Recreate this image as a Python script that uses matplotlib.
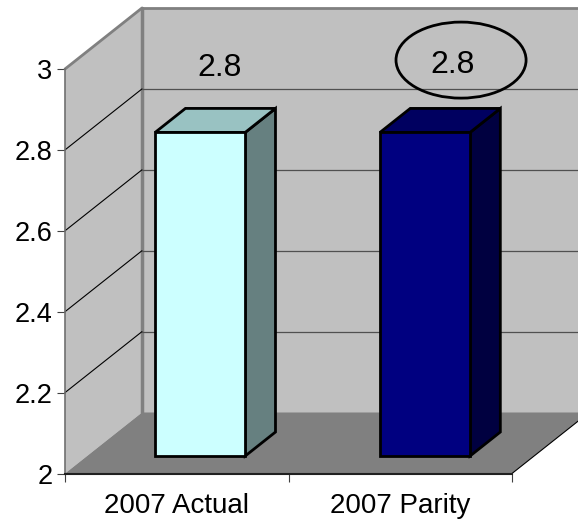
import matplotlib
matplotlib.use("Agg")
import matplotlib.pyplot as plt
from matplotlib.patches import Polygon, Ellipse

plt.rcParams["font.family"] = ["Liberation Sans", "DejaVu Sans"]

categories = ["2007 Actual", "2007 Parity"]
values = [2.8, 2.8]
y_ticks = [2, 2.2, 2.4, 2.6, 2.8, 3]
y_labels = ["2", "2.2", "2.4", "2.6", "2.8", "3"]

W, H = 578, 521
fig = plt.figure(figsize=(W / 100, H / 100), dpi=100, facecolor="white")
# the front plane of the fake 3d box is the real axes
ax = fig.add_axes([65 / W, (H - 473.5) / H, 447 / W, 404.5 / H])
ax.set_xlim(0, 2)
ax.set_ylim(2, 3)
ax.patch.set_visible(False)

# how far the back of the box is shifted, in data units
depth_x = 77 / 447 * 2
depth_y = 61 / 404.5


def proj(x, y, d):
    return (x + d * depth_x, y + d * depth_y)


def poly(points, **kw):
    p = Polygon(points, closed=True, clip_on=False, **kw)
    ax.add_patch(p)
    return p


def line(a, b, **kw):
    ax.plot([a[0], b[0]], [a[1], b[1]], clip_on=False, solid_capstyle="round", **kw)


# walls and floor
poly([proj(0, 2, 1), proj(0, 3, 1), proj(2, 3, 1), proj(2, 2, 1)], fc="#c0c0c0", ec="none", zorder=1)
poly([proj(0, 2, 0), proj(0, 3, 0), proj(0, 3, 1), proj(0, 2, 1)], fc="#c0c0c0", ec="none", zorder=1)
poly([proj(0, 2, 0), proj(2, 2, 0), proj(2, 2, 1), proj(0, 2, 1)], fc="#808080", ec="none", zorder=2)

line(proj(0, 3, 0), proj(0, 3, 1), color="#808080", lw=2, zorder=3)
line(proj(0, 3, 1), proj(2, 3, 1), color="#808080", lw=2, zorder=3)
line(proj(0, 2, 1), proj(0, 3, 1), color="#808080", lw=2.5, zorder=3)
line(proj(2, 2, 0), proj(2, 2, 1), color="black", lw=0.8, zorder=3)

for t in y_ticks[1:-1]:
    line(proj(0, t, 0), proj(0, t, 1), color="black", lw=0.8, zorder=3)
    line(proj(0, t, 1), proj(2, t, 1), color="#505050", lw=0.9, zorder=3)

# bars
bar_x = [0.506, 1.512]
bar_w = 0.403
front_d, back_d = 0.287, 0.68
face_cols = ["#ccffff", "#000080"]
top_cols = ["#99c2c2", "#000060"]
side_cols = ["#668080", "#000040"]

for x, v, fc, tc, sc in zip(bar_x, values, face_cols, top_cols, side_cols):
    l, r = x - bar_w / 2, x + bar_w / 2
    style = dict(ec="black", lw=2, joinstyle="miter", zorder=5)
    poly([proj(r, 2, front_d), proj(r, 2, back_d), proj(r, v, back_d), proj(r, v, front_d)], fc=sc, **style)
    poly([proj(l, v, front_d), proj(r, v, front_d), proj(r, v, back_d), proj(l, v, back_d)], fc=tc, **style)
    poly([proj(l, 2, front_d), proj(r, 2, front_d), proj(r, v, front_d), proj(l, v, front_d)], fc=fc, **style)

# value labels and the hand drawn circle
label_x = [0.692, 1.732]
label_y = [3.003, 3.010]
for x, y, v in zip(label_x, label_y, values):
    ax.text(x, y, f"{v:.1f}", fontsize=23, ha="center", va="center", color="black", zorder=7)
ax.add_patch(Ellipse((1.772, 3.022), 0.582, 0.188, fc="none", ec="black", lw=2, clip_on=False, zorder=7))

# axes
for s in ("top", "right"):
    ax.spines[s].set_visible(False)
ax.spines["left"].set_color("#707070")
ax.spines["left"].set_linewidth(1.2)
ax.spines["bottom"].set_color("#202020")
ax.spines["bottom"].set_linewidth(1.5)
ax.spines["left"].set_zorder(4)
ax.spines["bottom"].set_zorder(4)

ax.set_yticks(y_ticks)
ax.set_yticklabels(y_labels, fontsize=19.5)
ax.tick_params(axis="y", length=6, width=0.8, color="#404040", pad=3)
ax.set_xticks([0, 1, 2])
ax.set_xticklabels([])
ax.set_xticks([0.5, 1.5], categories, minor=True, fontsize=20)
ax.tick_params(axis="x", which="major", length=6, width=0.8, color="#404040")
ax.tick_params(axis="x", which="minor", length=0, pad=14)

fig.savefig("out.png", dpi=100)
